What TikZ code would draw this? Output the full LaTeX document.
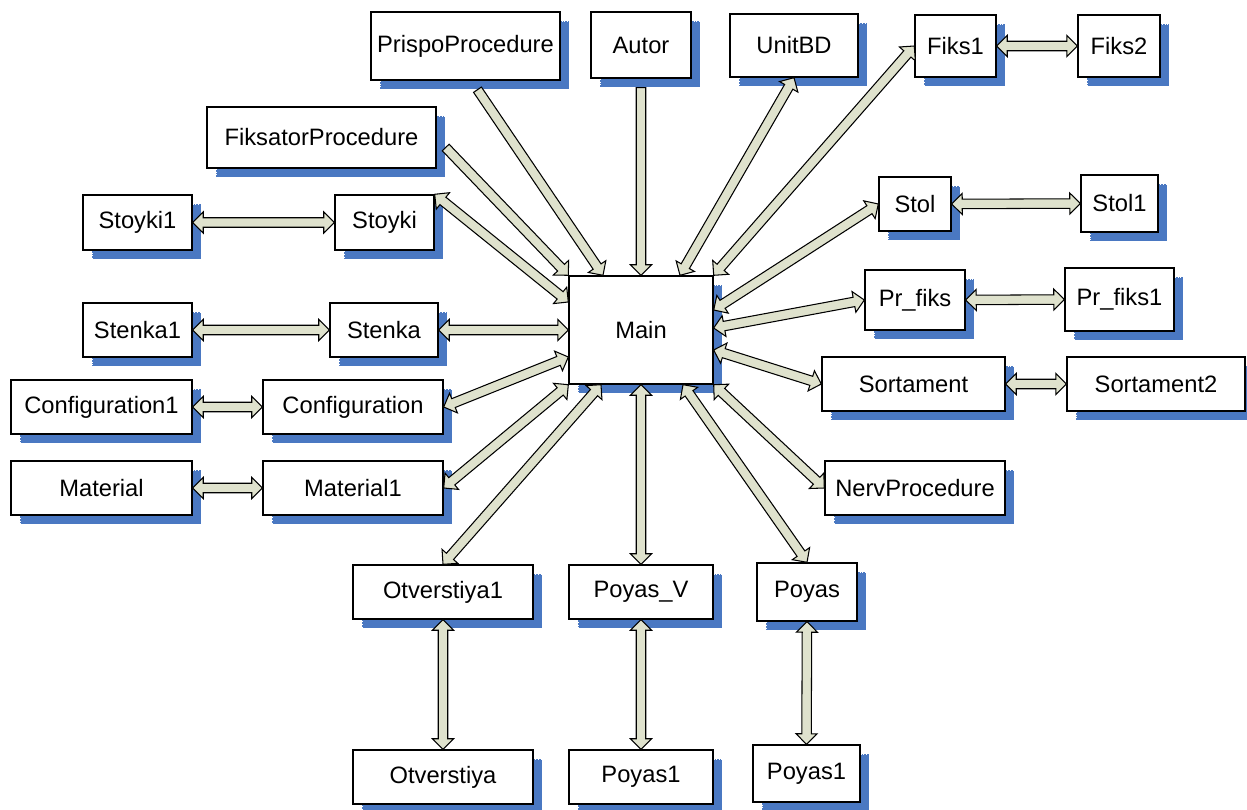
\documentclass[tikz,border=0pt]{standalone}
\usepackage{fontspec}
\setmainfont{Liberation Sans}
\usetikzlibrary{calc, shadows}

\definecolor{shadowblue}{HTML}{4A78C2}
\definecolor{arrowfill}{HTML}{DFE2CD}

\newcommand{\hdlen}{6pt}
\newcommand{\hdhalf}{6pt}
\newcommand{\shhalf}{2.7pt}

% block arrow, heads at both ends
\newcommand{\duplexarrow}[2]{%
  \coordinate (s) at (#1);
  \coordinate (e) at (#2);
  \filldraw[link]
    (s) -- ($(s)!\hdlen!(e)!\hdhalf!90:(e)$)
        -- ($(s)!\hdlen!(e)!\shhalf!90:(e)$)
        -- ($(e)!\hdlen!(s)!\shhalf!-90:(s)$)
        -- ($(e)!\hdlen!(s)!\hdhalf!-90:(s)$)
    -- (e) -- ($(e)!\hdlen!(s)!\hdhalf!90:(s)$)
        -- ($(e)!\hdlen!(s)!\shhalf!90:(s)$)
        -- ($(s)!\hdlen!(e)!\shhalf!-90:(e)$)
        -- ($(s)!\hdlen!(e)!\hdhalf!-90:(e)$)
    -- cycle;
}

% block arrow, head at the second end only
\newcommand{\simplexarrow}[2]{%
  \coordinate (s) at (#1);
  \coordinate (e) at (#2);
  \filldraw[link]
    ($(s)!\shhalf!90:(e)$)
    -- ($(e)!\hdlen!(s)!\shhalf!-90:(s)$)
    -- ($(e)!\hdlen!(s)!\hdhalf!-90:(s)$)
    -- (e)
    -- ($(e)!\hdlen!(s)!\hdhalf!90:(s)$)
    -- ($(e)!\hdlen!(s)!\shhalf!90:(s)$)
    -- ($(s)!\shhalf!-90:(e)$)
    -- cycle;
}

\begin{document}
\begin{tikzpicture}[
    x=0.02cm,
    y=-0.02cm,
    box/.style={
        draw,
        line width=0.8pt,
        fill=white,
        inner sep=2pt,
        font=\fontsize{13.5}{16}\selectfont,
        drop shadow={shadow xshift=0.18cm, shadow yshift=-0.18cm,
                     fill=shadowblue, opacity=1,
                     draw=white, densely dotted, line width=0.5pt}
    },
    dims/.style 2 args={minimum width=#1, minimum height=#2},
    link/.style={
        draw=black,
        line width=0.6pt,
        fill=arrowfill,
        line join=miter
    }
]
\useasboundingbox (0,0) rectangle (1247,810);
\clip (0,0) rectangle (1247,810);

% modules
\node[box, dims={2.88cm}{2.16cm}] (main) at (641,330) {Main};

\node[box, dims={3.78cm}{1.36cm}] (prispo) at (465.5,46) {PrispoProcedure};
\node[box, dims={2.00cm}{1.32cm}] (autor) at (641,45) {Autor};
\node[box, dims={2.56cm}{1.26cm}] (unitbd) at (794,45.5) {UnitBD};
\node[box, dims={1.62cm}{1.24cm}] (fiks1) at (955.5,46) {Fiks1};
\node[box, dims={1.64cm}{1.24cm}] (fiks2) at (1119,46) {Fiks2};
\node[box, dims={4.58cm}{1.22cm}] (fiksator) at (321.5,137.5) {FiksatorProcedure};

\node[box, dims={2.18cm}{1.10cm}] (stoyki1) at (137.5,222.5) {Stoyki1};
\node[box, dims={1.98cm}{1.10cm}] (stoyki) at (384.5,222.5) {Stoyki};
\node[box, dims={2.18cm}{1.08cm}] (stenka1) at (137.5,330) {Stenka1};
\node[box, dims={2.16cm}{1.08cm}] (stenka) at (384,330) {Stenka};
\node[box, dims={3.62cm}{1.08cm}] (config1) at (101.5,407) {Configuration1};
\node[box, dims={3.60cm}{1.08cm}] (config) at (353,407) {Configuration};
\node[box, dims={3.62cm}{1.08cm}] (material) at (101.5,488) {Material};
\node[box, dims={3.60cm}{1.08cm}] (material1) at (353,488) {Material1};

\node[box, dims={1.44cm}{1.08cm}] (stol) at (915,204) {Stol};
\node[box, dims={1.54cm}{1.14cm}] (stol1) at (1119.5,203.5) {Stol1};
\node[box, dims={2.00cm}{1.20cm}] (prfiks) at (915,300) {Pr\_fiks};
\node[box, dims={2.18cm}{1.26cm}] (prfiks1) at (1119.5,299.5) {Pr\_fiks1};
\node[box, dims={3.66cm}{1.08cm}] (sortament) at (913.5,384) {Sortament};
\node[box, dims={3.56cm}{1.08cm}] (sortament2) at (1156,384) {Sortament2};
\node[box, dims={3.60cm}{1.08cm}] (nerv) at (915,488) {NervProcedure};

\node[box, dims={3.60cm}{1.08cm}] (otverstiya1) at (443,592) {Otverstiya1};
\node[box, dims={2.88cm}{1.08cm}] (poyasv) at (641,592) {Poyas\_V};
\node[box, dims={2.00cm}{1.16cm}] (poyas) at (807,592) {Poyas};
\node[box, dims={3.60cm}{1.08cm}] (otverstiya) at (443,777) {Otverstiya};
\node[box, dims={2.88cm}{1.08cm}] (poyas1v) at (641,777) {Poyas1};
\node[box, dims={2.14cm}{1.14cm}] (poyas1) at (806.5,773.5) {Poyas1};

% links into Main
\simplexarrow{$(prispo.south)+(12,9)$}{$(main.north)+(-38,0)$}
\simplexarrow{$(autor.south)+(0,9)$}{main.north}
\simplexarrow{$(fiksator.east)+(9,10)$}{main.north west}
\duplexarrow{unitbd.south}{$(main.north)+(39,0)$}
\duplexarrow{fiks1.west}{main.north east}
\duplexarrow{stoyki.north east}{$(main.west)+(0,-28)$}
\duplexarrow{stenka.east}{main.west}
\duplexarrow{config.east}{$(main.west)+(0,27)$}
\duplexarrow{material1.east}{main.south west}
\duplexarrow{otverstiya1.north}{$(main.south)+(-40,0)$}
\duplexarrow{poyasv.north}{main.south}
\duplexarrow{poyas.north}{$(main.south)+(42,0)$}
\duplexarrow{nerv.west}{main.south east}
\duplexarrow{sortament.west}{$(main.east)+(0,20)$}
\duplexarrow{prfiks.west}{$(main.east)+(0,-2)$}
\duplexarrow{stol.west}{$(main.east)+(0,-20)$}

% side links
\duplexarrow{stoyki1.east}{stoyki.west}
\duplexarrow{stenka1.east}{stenka.west}
\duplexarrow{config1.east}{config.west}
\duplexarrow{material.east}{material1.west}
\duplexarrow{fiks1.east}{fiks2.west}
\duplexarrow{stol.east}{stol1.west}
\duplexarrow{prfiks.east}{prfiks1.west}
\duplexarrow{sortament.east}{sortament2.west}
\duplexarrow{otverstiya1.south}{otverstiya.north}
\duplexarrow{poyasv.south}{poyas1v.north}
\duplexarrow{poyas.south}{poyas1.north}

\end{tikzpicture}
\end{document}
